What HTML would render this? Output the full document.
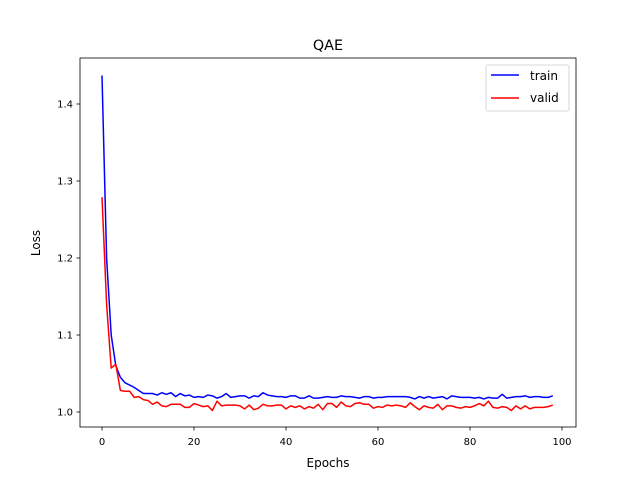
<!DOCTYPE html>
<html><head><meta charset="utf-8"><style>
body{margin:0;background:#fff;}
svg text{font-family:"DejaVu Sans","Liberation Sans",sans-serif;fill:#000;}
</style></head><body>
<svg id="chart" width="640" height="480">
<rect width="640" height="480" fill="#fff"/>
<text x="328" y="50" font-size="14.4" text-anchor="middle">QAE</text>
<g id="ticks"></g>
<g id="lines"></g>
<rect x="80" y="58" width="496" height="369" fill="none" stroke="#000" stroke-width="0.8"/>
<text x="328" y="467" font-size="12" text-anchor="middle">Epochs</text>
<text transform="translate(40,243) rotate(-90)" font-size="12" text-anchor="middle">Loss</text>
<g>
<rect x="486" y="65" width="83" height="46" rx="2" fill="#fff" stroke="#ccc" stroke-width="0.8"/>
<line x1="491" y1="75" x2="519" y2="75" stroke="#0000ff" stroke-width="1.5"/>
<text x="530" y="80" font-size="12">train</text>
<line x1="491" y1="98" x2="519" y2="98" stroke="#ff0000" stroke-width="1.5"/>
<text x="530" y="102" font-size="12">valid</text>
</g>
</svg>
<script>
const xTicks=[0,20,40,60,80,100];
const yTicks=[1.0,1.1,1.2,1.3,1.4];
const yTickLabels=["1.0","1.1","1.2","1.3","1.4"];
const train=[1.437,1.20,1.10,1.06,1.045,1.038,1.035,1.032,1.028,1.024,1.024,1.024,1.022,1.025,1.023,1.025,1.020,1.024,1.021,1.022,1.019,1.020,1.019,1.022,1.021,1.018,1.020,1.024,1.019,1.020,1.021,1.021,1.018,1.021,1.020,1.025,1.022,1.021,1.020,1.020,1.019,1.021,1.021,1.018,1.018,1.021,1.018,1.018,1.019,1.020,1.019,1.019,1.021,1.020,1.020,1.019,1.018,1.020,1.020,1.018,1.019,1.019,1.020,1.020,1.020,1.020,1.020,1.019,1.017,1.020,1.018,1.020,1.018,1.019,1.020,1.017,1.021,1.020,1.019,1.019,1.019,1.018,1.019,1.017,1.019,1.018,1.018,1.023,1.018,1.019,1.020,1.020,1.021,1.019,1.020,1.020,1.019,1.019,1.021];
const valid=[1.279,1.14,1.057,1.062,1.028,1.027,1.027,1.019,1.020,1.016,1.015,1.010,1.013,1.008,1.007,1.010,1.010,1.010,1.006,1.006,1.011,1.009,1.007,1.008,1.002,1.014,1.008,1.009,1.009,1.009,1.008,1.004,1.009,1.003,1.005,1.010,1.008,1.008,1.009,1.009,1.004,1.008,1.006,1.008,1.004,1.007,1.005,1.010,1.003,1.011,1.011,1.006,1.013,1.008,1.007,1.011,1.012,1.010,1.010,1.005,1.007,1.006,1.009,1.008,1.009,1.008,1.006,1.012,1.007,1.003,1.008,1.006,1.005,1.010,1.003,1.008,1.008,1.006,1.005,1.007,1.006,1.008,1.011,1.008,1.014,1.006,1.005,1.007,1.006,1.002,1.008,1.004,1.008,1.004,1.006,1.006,1.006,1.007,1.009];
const xs=v=>102+v*4.6;
const ys=v=>412-(v-1.0)*770;
const NS="http://www.w3.org/2000/svg";
const tg=document.getElementById('ticks'), lg=document.getElementById('lines');
xTicks.forEach(t=>{
 const l=document.createElementNS(NS,'line');
 l.setAttribute('x1',xs(t));l.setAttribute('x2',xs(t));l.setAttribute('y1',427);l.setAttribute('y2',430.5);l.setAttribute('stroke','#000');l.setAttribute('stroke-width','0.8');
 
 
 tg.appendChild(l);
 const tx=document.createElementNS(NS,'text');
 tx.setAttribute('x',xs(t));tx.setAttribute('y',445);tx.setAttribute('font-size','10');tx.setAttribute('text-anchor','middle');tx.textContent=t;
 
 
 tg.appendChild(tx);
});
yTicks.forEach((t,i)=>{
 const l=document.createElementNS(NS,'line');
 l.setAttribute('x1',76.5);l.setAttribute('x2',80);l.setAttribute('y1',ys(t));l.setAttribute('y2',ys(t));l.setAttribute('stroke','#000');l.setAttribute('stroke-width','0.8');
 
 
 tg.appendChild(l);
 const tx=document.createElementNS(NS,'text');
 tx.setAttribute('x',73);tx.setAttribute('y',ys(t)+3.5);tx.setAttribute('font-size','10');tx.setAttribute('text-anchor','end');tx.textContent=yTickLabels[i];
 
 
 tg.appendChild(tx);
});
function line(arr,color,name){
 const p=document.createElementNS(NS,'polyline');
 p.setAttribute('points',arr.map((v,i)=>xs(i)+','+ys(v)).join(' '));
 p.setAttribute('fill','none');p.setAttribute('stroke',color);p.setAttribute('stroke-width','1.5');p.setAttribute('stroke-linejoin','round');
 
 
 lg.appendChild(p);
}
line(train,'#0000ff','train-line');
line(valid,'#ff0000','valid-line');
</script>
</body></html>
